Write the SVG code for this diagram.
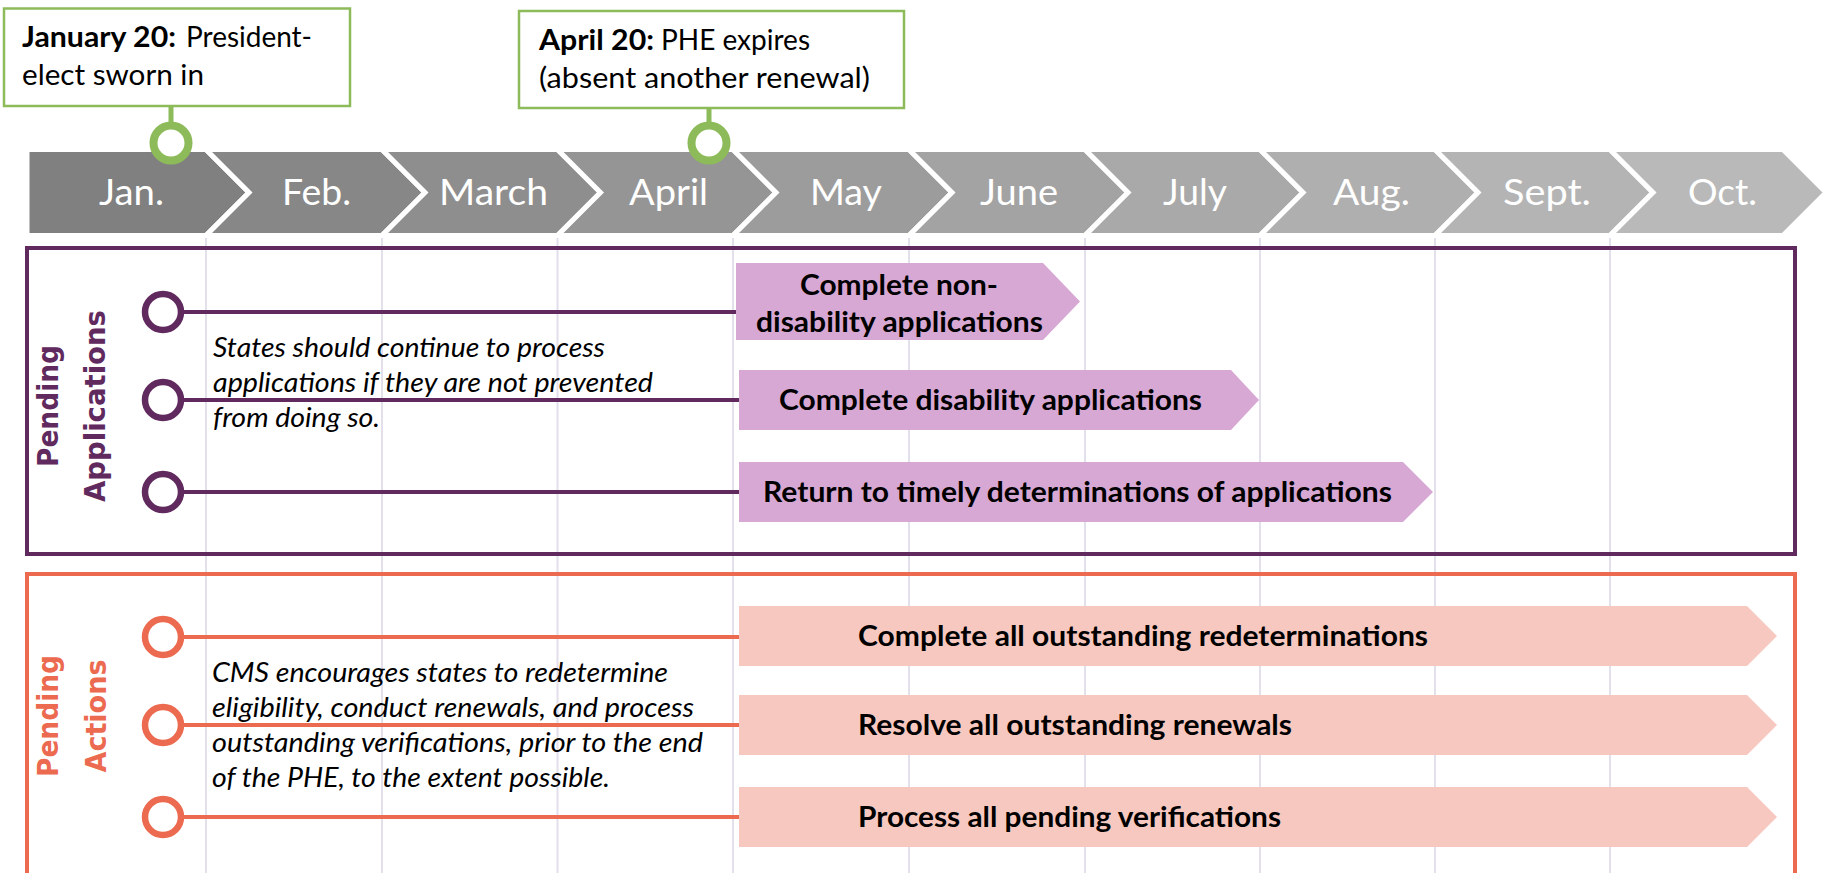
<svg xmlns="http://www.w3.org/2000/svg" width="1825" height="873" viewBox="0 0 1825 873">
<defs>
<style>
.chev{stroke:#ffffff;stroke-width:5;stroke-linejoin:miter}
.mon{font-family:Lato,"Liberation Sans",sans-serif;font-weight:normal;font-size:37px;fill:#ffffff;text-anchor:middle}
.grid{stroke:#e3e0ec;stroke-width:2}
.cal{font-family:Lato,"Liberation Sans",sans-serif;fill:#000000;font-size:28px}
.b{font-weight:bold}
.callout{fill:#ffffff;stroke:#8dbb5a;stroke-width:2.5}
.stem{stroke:#8dbb5a;stroke-width:5}
.ms{fill:#ffffff;stroke:#8dbb5a;stroke-width:8}
.pline{stroke:#602a5e;stroke-width:4}
.oline{stroke:#ec6a50;stroke-width:4}
.pcirc{fill:#ffffff;stroke:#602a5e;stroke-width:6.5}
.ocirc{fill:#ffffff;stroke:#ec6a50;stroke-width:6.5}
.pbar{fill:#d8a8d4}
.obar{fill:#f7c8bf}
.bart{font-family:Lato,"Liberation Sans",sans-serif;font-weight:bold;font-size:29px;fill:#000000}
.ital{font-family:Lato,"Liberation Sans",sans-serif;font-style:italic;font-size:26.5px;fill:#000000}
.side{font-family:"DejaVu Sans",Verdana,sans-serif;font-weight:bold;font-size:28px;text-anchor:middle}
</style>
</defs>
<rect x="0" y="0" width="1825" height="873" fill="#ffffff"/>

<g id="gridlines">
<line class="grid" x1="206" y1="233" x2="206" y2="873"/>
<line class="grid" x1="382" y1="233" x2="382" y2="873"/>
<line class="grid" x1="557.5" y1="233" x2="557.5" y2="873"/>
<line class="grid" x1="733" y1="233" x2="733" y2="873"/>
<line class="grid" x1="909" y1="233" x2="909" y2="873"/>
<line class="grid" x1="1085" y1="233" x2="1085" y2="873"/>
<line class="grid" x1="1260" y1="233" x2="1260" y2="873"/>
<line class="grid" x1="1435" y1="233" x2="1435" y2="873"/>
<line class="grid" x1="1610" y1="233" x2="1610" y2="873"/>
</g>

<g id="months">
<g id="m-jan"><polygon class="chev" fill="#808080" points="27,149.5 206,149.5 249,192.5 206,235.5 27,235.5"/><text class="mon" x="131.5" y="205" textLength="65" lengthAdjust="spacingAndGlyphs">Jan.</text></g>
<g id="m-feb"><polygon class="chev" fill="#878787" points="206,149.5 382,149.5 425,192.5 382,235.5 206,235.5 249,192.5"/><text class="mon" x="316.5" y="205" textLength="69" lengthAdjust="spacingAndGlyphs">Feb.</text></g>
<g id="m-mar"><polygon class="chev" fill="#8e8e8e" points="382,149.5 557.5,149.5 600.5,192.5 557.5,235.5 382,235.5 425,192.5"/><text class="mon" x="493.5" y="205" textLength="109" lengthAdjust="spacingAndGlyphs">March</text></g>
<g id="m-apr"><polygon class="chev" fill="#959595" points="557.5,149.5 733,149.5 776,192.5 733,235.5 557.5,235.5 600.5,192.5"/><text class="mon" x="668.5" y="205" textLength="79" lengthAdjust="spacingAndGlyphs">April</text></g>
<g id="m-may"><polygon class="chev" fill="#9c9c9c" points="733,149.5 909,149.5 952,192.5 909,235.5 733,235.5 776,192.5"/><text class="mon" x="846" y="205" textLength="72" lengthAdjust="spacingAndGlyphs">May</text></g>
<g id="m-jun"><polygon class="chev" fill="#a3a3a3" points="909,149.5 1085,149.5 1128,192.5 1085,235.5 909,235.5 952,192.5"/><text class="mon" x="1019" y="205" textLength="78" lengthAdjust="spacingAndGlyphs">June</text></g>
<g id="m-jul"><polygon class="chev" fill="#a9a9a9" points="1085,149.5 1260,149.5 1303,192.5 1260,235.5 1085,235.5 1128,192.5"/><text class="mon" x="1195" y="205" textLength="64" lengthAdjust="spacingAndGlyphs">July</text></g>
<g id="m-aug"><polygon class="chev" fill="#afafaf" points="1260,149.5 1435,149.5 1478,192.5 1435,235.5 1260,235.5 1303,192.5"/><text class="mon" x="1371.5" y="205" textLength="77" lengthAdjust="spacingAndGlyphs">Aug.</text></g>
<g id="m-sep"><polygon class="chev" fill="#b4b4b4" points="1435,149.5 1610,149.5 1653,192.5 1610,235.5 1435,235.5 1478,192.5"/><text class="mon" x="1547" y="205" textLength="88" lengthAdjust="spacingAndGlyphs">Sept.</text></g>
<g id="m-oct"><polygon class="chev" fill="#b9b9b9" points="1610,149.5 1783,149.5 1826,192.5 1783,235.5 1610,235.5 1653,192.5"/><text class="mon" x="1722.5" y="205" textLength="69" lengthAdjust="spacingAndGlyphs">Oct.</text></g>
</g>

<g id="milestone-jan">
<rect class="callout" x="4" y="8.5" width="346" height="97.5"/>
<text class="cal" y="47"><tspan class="b" x="22" textLength="154" lengthAdjust="spacingAndGlyphs">January 20:</tspan><tspan x="186" textLength="126" lengthAdjust="spacingAndGlyphs">President-</tspan></text>
<text class="cal" x="22" y="85" textLength="182" lengthAdjust="spacingAndGlyphs">elect sworn in</text>
<line class="stem" x1="171" y1="106" x2="171" y2="126"/>
<circle class="ms" cx="171" cy="143" r="17.5"/>
</g>

<g id="milestone-apr">
<rect class="callout" x="519" y="11" width="385" height="97"/>
<text class="cal" y="50"><tspan class="b" x="539" textLength="115" lengthAdjust="spacingAndGlyphs">April 20:</tspan><tspan x="661" textLength="149" lengthAdjust="spacingAndGlyphs">PHE expires</tspan></text>
<text class="cal" x="539" y="88" textLength="331" lengthAdjust="spacingAndGlyphs">(absent another renewal)</text>
<line class="stem" x1="709" y1="108" x2="709" y2="126"/>
<circle class="ms" cx="709" cy="143" r="17.5"/>
</g>

<g id="panel-applications">
<rect x="27" y="248" width="1768" height="306" fill="none" stroke="#602a5e" stroke-width="4"/>
<text class="side" fill="#602a5e" transform="translate(58,406) rotate(-90)" x="0" y="0" textLength="122" lengthAdjust="spacingAndGlyphs">Pending</text>
<text class="side" fill="#602a5e" transform="translate(105,406) rotate(-90)" x="0" y="0" textLength="192" lengthAdjust="spacingAndGlyphs">Applications</text>
<text class="ital" x="213" y="357" textLength="392" lengthAdjust="spacingAndGlyphs">States should continue to process</text>
<text class="ital" x="213" y="392" textLength="440" lengthAdjust="spacingAndGlyphs">applications if they are not prevented</text>
<text class="ital" x="213" y="427" textLength="167" lengthAdjust="spacingAndGlyphs">from doing so.</text>
</g>

<g id="panel-actions">
<rect x="27" y="574" width="1768" height="340" fill="none" stroke="#ec6a50" stroke-width="4"/>
<text class="side" fill="#ec6a50" transform="translate(58,716) rotate(-90)" x="0" y="0" textLength="122" lengthAdjust="spacingAndGlyphs">Pending</text>
<text class="side" fill="#ec6a50" transform="translate(105.5,716) rotate(-90)" x="0" y="0" textLength="113" lengthAdjust="spacingAndGlyphs">Actions</text>
<text class="ital" x="212" y="682" textLength="456" lengthAdjust="spacingAndGlyphs">CMS encourages states to redetermine</text>
<text class="ital" x="212" y="717" textLength="482" lengthAdjust="spacingAndGlyphs">eligibility, conduct renewals, and process</text>
<text class="ital" x="212" y="752" textLength="491" lengthAdjust="spacingAndGlyphs">outstanding verifications, prior to the end</text>
<text class="ital" x="212" y="787" textLength="398" lengthAdjust="spacingAndGlyphs">of the PHE, to the extent possible.</text>
</g>

<g id="connectors">
<line class="pline" x1="181" y1="312" x2="737" y2="312"/>
<line class="pline" x1="181" y1="400" x2="740" y2="400"/>
<line class="pline" x1="181" y1="492" x2="740" y2="492"/>
<line class="oline" x1="181" y1="637" x2="740" y2="637"/>
<line class="oline" x1="181" y1="725" x2="740" y2="725"/>
<line class="oline" x1="181" y1="817" x2="740" y2="817"/>
</g>

<g id="app-nondisability">
<circle class="pcirc" cx="163" cy="312" r="18"/>
<polygon class="pbar" points="736,263 1043,263 1080,301.5 1043,340 736,340"/>
<text class="bart" x="899" y="295" text-anchor="middle" textLength="198" lengthAdjust="spacingAndGlyphs">Complete non-</text>
<text class="bart" x="899.5" y="332" text-anchor="middle" textLength="287" lengthAdjust="spacingAndGlyphs">disability applications</text>
</g>
<g id="app-disability">
<circle class="pcirc" cx="163" cy="400" r="18"/>
<polygon class="pbar" points="739,370 1231,370 1259,400 1231,430 739,430"/>
<text class="bart" x="990.5" y="410" text-anchor="middle" textLength="423" lengthAdjust="spacingAndGlyphs">Complete disability applications</text>
</g>
<g id="app-timely">
<circle class="pcirc" cx="163" cy="492" r="18"/>
<polygon class="pbar" points="739,462 1403,462 1433,492 1403,522 739,522"/>
<text class="bart" x="1077.5" y="502" text-anchor="middle" textLength="629" lengthAdjust="spacingAndGlyphs">Return to timely determinations of applications</text>
</g>

<g id="act-redeterminations">
<circle class="ocirc" cx="163" cy="637" r="18"/>
<polygon class="obar" points="739,606 1747,606 1777,636 1747,666 739,666"/>
<text class="bart" x="858" y="646" textLength="570" lengthAdjust="spacingAndGlyphs">Complete all outstanding redeterminations</text>
</g>
<g id="act-renewals">
<circle class="ocirc" cx="163" cy="725" r="18"/>
<polygon class="obar" points="739,695 1747,695 1777,725 1747,755 739,755"/>
<text class="bart" x="858" y="735" textLength="434" lengthAdjust="spacingAndGlyphs">Resolve all outstanding renewals</text>
</g>
<g id="act-verifications">
<circle class="ocirc" cx="163" cy="817" r="18"/>
<polygon class="obar" points="739,787 1747,787 1777,817 1747,847 739,847"/>
<text class="bart" x="858" y="827" textLength="423" lengthAdjust="spacingAndGlyphs">Process all pending verifications</text>
</g>
</svg>
